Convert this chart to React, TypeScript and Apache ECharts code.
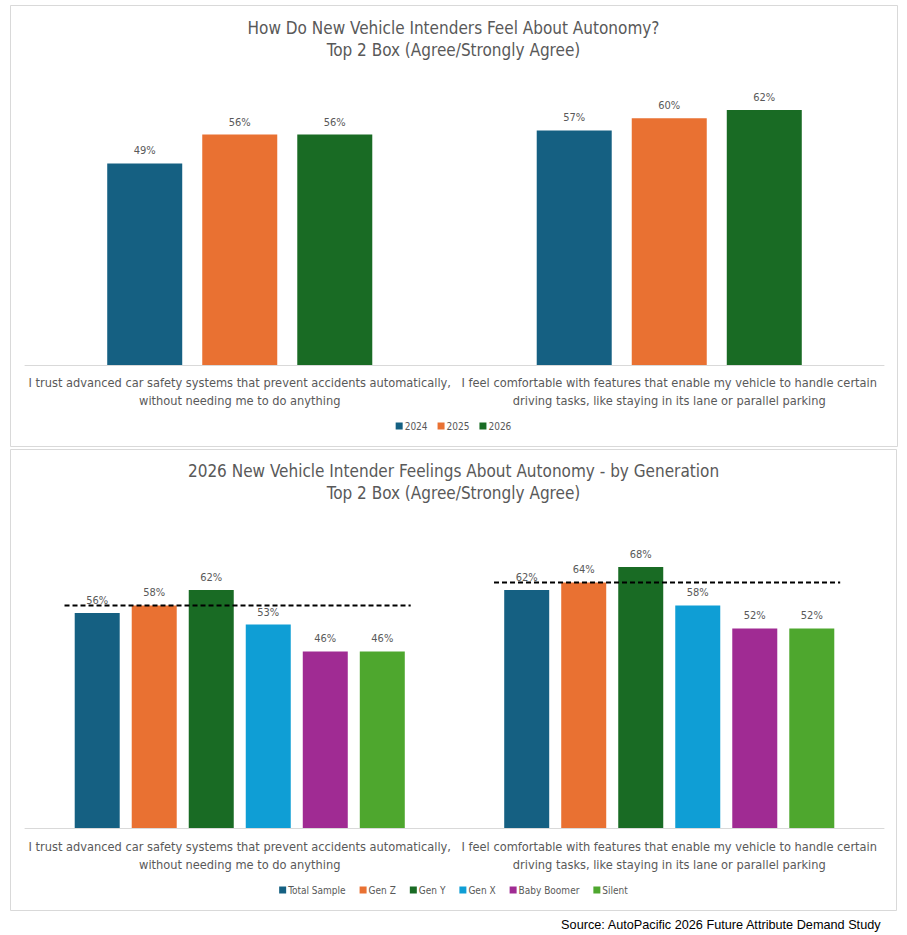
import React, { useEffect, useRef } from "react";
import * as echarts from "echarts";

const categories = [
  "I trust advanced car safety systems that prevent accidents automatically,\nwithout needing me to do anything",
  "I feel comfortable with features that enable my vehicle to handle certain\ndriving tasks, like staying in its lane or parallel parking",
];

const yearNames = ["2024", "2025", "2026"];
const yearValues = [
  [49, 57],
  [56, 60],
  [56, 62],
];
const yearColors = ["#156082", "#E97132", "#196B24"];

const genNames = ["Total Sample", "Gen Z", "Gen Y", "Gen X", "Baby Boomer", "Silent"];
const genValues = [
  [56, 62],
  [58, 64],
  [62, 68],
  [53, 58],
  [46, 52],
  [46, 52],
];
const genColors = ["#156082", "#E97132", "#196B24", "#0F9ED5", "#A02B93", "#4EA72E"];

const referenceLine = [
  [0, 58],
  [1, 64],
];

const titleTop = "How Do New Vehicle Intenders Feel About Autonomy?\nTop 2 Box (Agree/Strongly Agree)";
const titleBottom = "2026 New Vehicle Intender Feelings About Autonomy - by Generation\nTop 2 Box (Agree/Strongly Agree)";
const sourceText = "Source: AutoPacific 2026 Future Attribute Demand Study";

const FONT = "'DejaVu Sans Condensed', 'Liberation Sans Narrow', 'Liberation Sans', sans-serif";
const GRAY = "#595959";

export default function App() {
  const ref = useRef<HTMLDivElement>(null);

  useEffect(() => {
    document.body.style.margin = "0";
    const chart = echarts.init(ref.current!, null, { renderer: "svg" });

    const labelStyle = {
      show: true,
      position: "top",
      distance: 7,
      fontSize: 11,
      color: GRAY,
      fontFamily: FONT,
      formatter: (p: any) => p.value + "%",
    };

    const topSeries = yearNames.map((name, i) => ({
      name,
      type: "bar",
      xAxisIndex: 0,
      yAxisIndex: 0,
      data: yearValues[i],
      barWidth: 75,
      barGap: "26.7%",
      itemStyle: { color: yearColors[i] },
      label: labelStyle,
    }));

    const bottomSeries = genNames.map((name, i) => ({
      name,
      type: "bar",
      xAxisIndex: 1,
      yAxisIndex: 1,
      data: genValues[i],
      barWidth: 45,
      barGap: "26.7%",
      itemStyle: { color: genColors[i] },
      label: labelStyle,
    }));

    const xAxisBase = (gridIndex: number, margin: number) => ({
      type: "category",
      gridIndex,
      data: categories,
      axisLine: { lineStyle: { color: "#d9d9d9", width: 1 } },
      axisTick: { show: false },
      axisLabel: {
        interval: 0,
        margin,
        fontSize: 12.7,
        lineHeight: 18,
        color: GRAY,
        fontFamily: FONT,
      },
    });

    const titleStyle = { fontSize: 17, lineHeight: 22, color: GRAY, fontWeight: "normal", fontFamily: FONT };
    const legendText = { fontSize: 10, color: GRAY, fontFamily: FONT, padding: [0, 0, 0, -3] };

    chart.setOption({
      animation: false,
      backgroundColor: "#ffffff",
      textStyle: { fontFamily: FONT },
      title: [
        { text: titleTop, left: "center", top: 12, textStyle: titleStyle },
        { text: titleBottom, left: "center", top: 455, textStyle: titleStyle },
      ],
      legend: [
        {
          data: yearNames,
          top: 416,
          left: "center",
          icon: "rect",
          itemWidth: 7,
          itemHeight: 7,
          itemGap: 10,
          textStyle: legendText,
        },
        {
          data: genNames,
          top: 880,
          left: "center",
          icon: "rect",
          itemWidth: 7,
          itemHeight: 7,
          itemGap: 14,
          textStyle: legendText,
        },
      ],
      grid: [
        { left: 25, width: 859, top: 77, height: 288, containLabel: false },
        { left: 25, width: 859, top: 521, height: 307, containLabel: false },
      ],
      xAxis: [xAxisBase(0, 8), xAxisBase(1, 9)],
      yAxis: [
        { type: "value", gridIndex: 0, min: 0, max: 70, show: false, splitLine: { show: false } },
        { type: "value", gridIndex: 1, min: 0, max: 80, show: false, splitLine: { show: false } },
      ],
      series: [
        ...topSeries,
        ...bottomSeries,
        {
          type: "custom",
          name: "Reference",
          xAxisIndex: 1,
          yAxisIndex: 1,
          z: 5,
          data: referenceLine,
          encode: { x: 0, y: 1 },
          renderItem: (params: any, api: any) => {
            const c = api.coord([api.value(0), api.value(1)]);
            const band = api.size([1, 0])[0];
            return {
              type: "line",
              shape: { x1: c[0] - band * 0.408, y1: c[1], x2: c[0] + band * 0.398, y2: c[1] },
              style: { stroke: "#000000", lineWidth: 2, lineDash: [5, 3] },
            };
          },
        },
      ],
      graphic: [
        {
          type: "rect",
          shape: { x: 10.5, y: 5.5, width: 887, height: 441 },
          style: { fill: "none", stroke: "#d9d9d9", lineWidth: 1 },
          silent: true,
        },
        {
          type: "rect",
          shape: { x: 10.5, y: 449.5, width: 886, height: 461 },
          style: { fill: "none", stroke: "#d9d9d9", lineWidth: 1 },
          silent: true,
        },
        {
          type: "text",
          right: 25,
          top: 918,
          style: {
            text: sourceText,
            fontSize: 12.7,
            fill: "#000000",
            fontFamily: "'Liberation Sans', Arial, sans-serif",
          },
        },
      ],
    });

    return () => chart.dispose();
  }, []);

  return <div ref={ref} style={{ width: 907, height: 935 }} />;
}
